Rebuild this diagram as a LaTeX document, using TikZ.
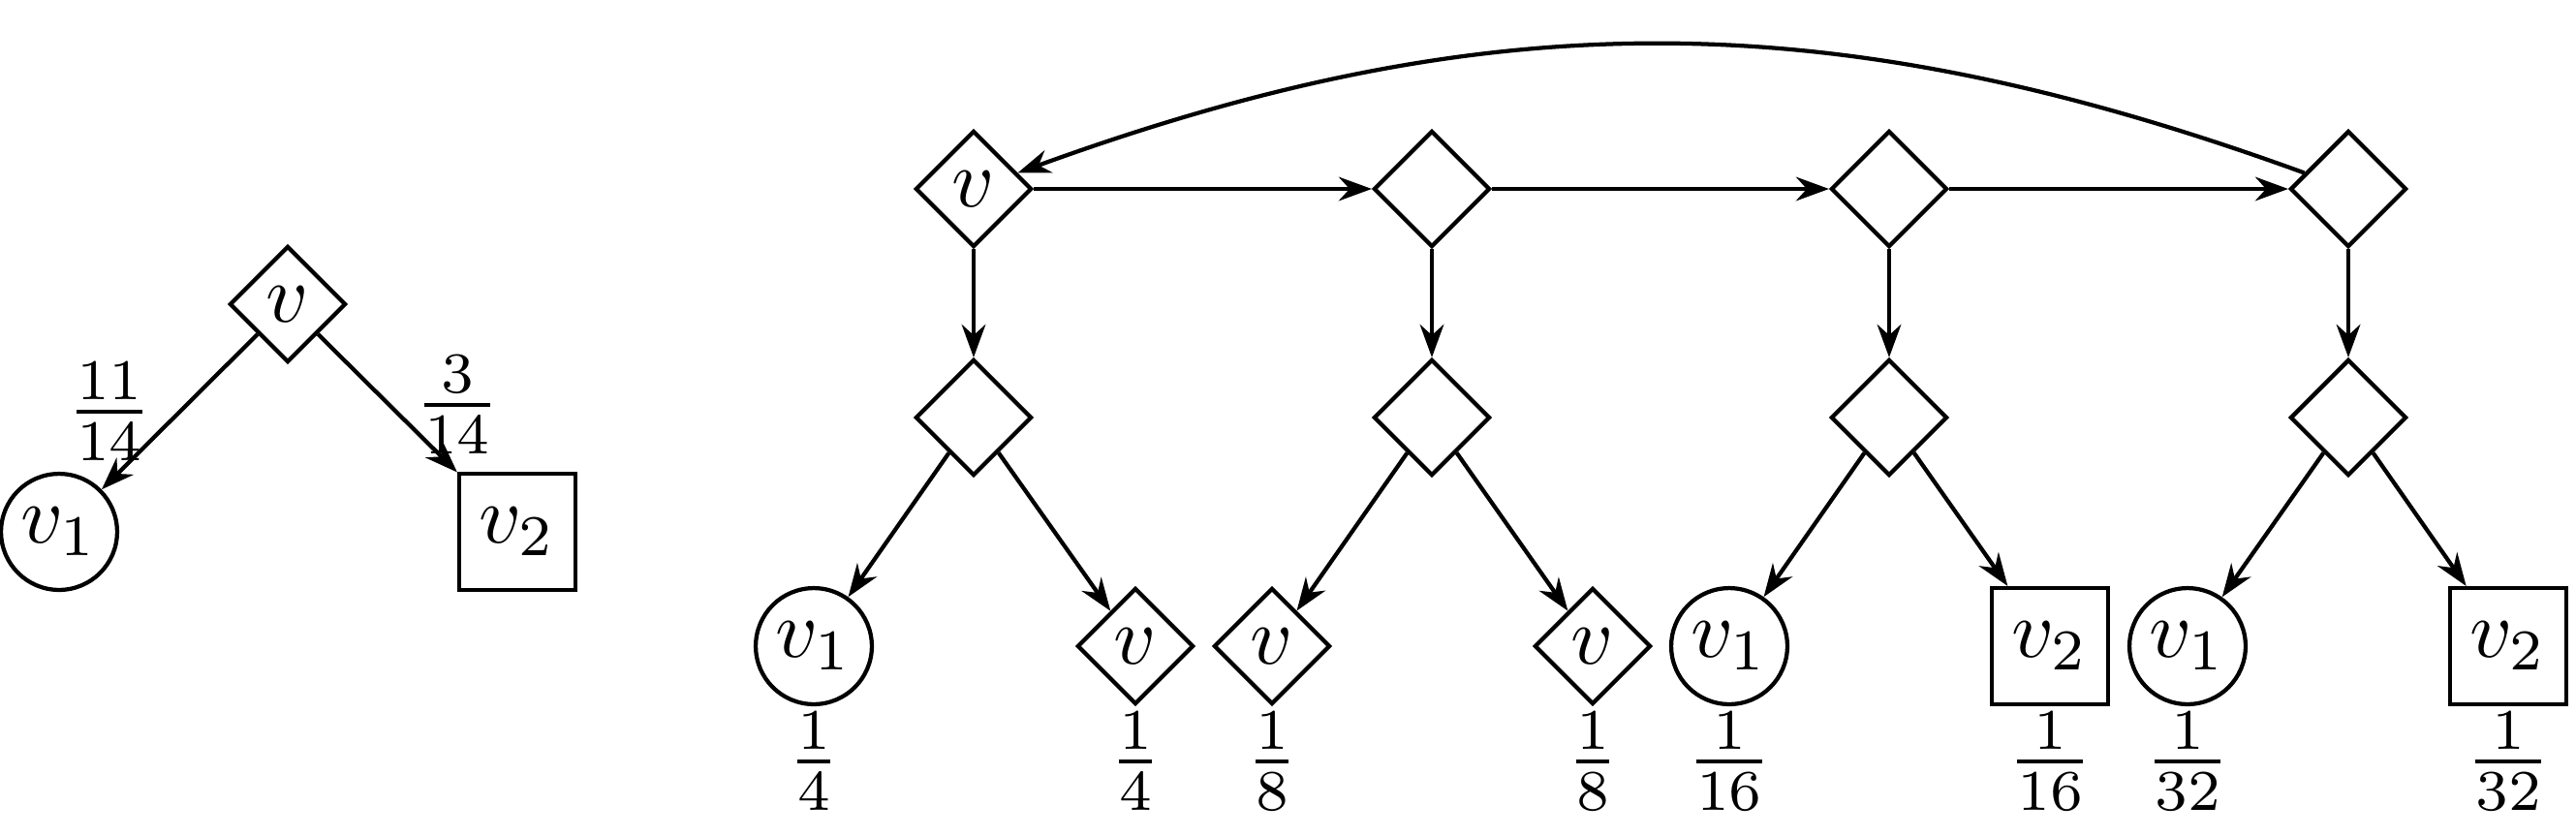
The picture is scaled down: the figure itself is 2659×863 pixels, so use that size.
\documentclass[tikz,border=0pt]{standalone}
\usetikzlibrary{shapes.geometric,arrows.meta}
\begin{document}
\begin{tikzpicture}[x=0.11765pt,y=-0.11765pt, line width=0.5pt,
  dnode/.style={diamond,draw,minimum width=14.1pt,minimum height=14.1pt,inner sep=0pt},
  cnode/.style={circle,draw,minimum size=14.1pt,inner sep=0pt},
  snode/.style={rectangle,draw,minimum size=14.1pt,inner sep=0pt},
  arr/.style={-{Stealth[length=4pt,width=2.9pt]}},
  lab/.style={inner sep=0pt}]
\useasboundingbox (0,0) rectangle (2659,863);
% left figure
\node[dnode] (L) at (297,314) {$v$};
\node[cnode] (L1) at (61,549) {$v_1$};
\node[snode] (L2) at (534,549) {$v_2$};
\draw[arr] (L) -- (L1);
\draw[arr] (L) -- (L2);
\node[lab] (Lp1) at (113,425) {$\frac{11}{14}$};
\node[lab] (Lp2) at (472,418) {$\frac{3}{14}$};
% right figure: top row
\node[dnode] (T1) at (1005,195) {$v$};
\node[dnode] (T2) at (1478,195) {};
\node[dnode] (T3) at (1950,195) {};
\node[dnode] (T4) at (2424,195) {};
% middle row
\node[dnode] (M1) at (1005,431) {};
\node[dnode] (M2) at (1478,431) {};
\node[dnode] (M3) at (1950,431) {};
\node[dnode] (M4) at (2424,431) {};
% bottom row
\node[cnode] (B1a) at (840,667) {$v_1$};
\node[dnode] (B1b) at (1172,667) {$v$};
\node[dnode] (B2a) at (1313,667) {$v$};
\node[dnode] (B2b) at (1644,667) {$v$};
\node[cnode] (B3a) at (1785,667) {$v_1$};
\node[snode] (B3b) at (2116,667) {$v_2$};
\node[cnode] (B4a) at (2258,667) {$v_1$};
\node[snode] (B4b) at (2589,667) {$v_2$};
% probabilities
\node[lab] (P1a) at (840,786) {$\frac{1}{4}$};
\node[lab] (P1b) at (1172,786) {$\frac{1}{4}$};
\node[lab] (P2a) at (1313,786) {$\frac{1}{8}$};
\node[lab] (P2b) at (1644,786) {$\frac{1}{8}$};
\node[lab] (P3a) at (1785,786) {$\frac{1}{16}$};
\node[lab] (P3b) at (2116,786) {$\frac{1}{16}$};
\node[lab] (P4a) at (2258,786) {$\frac{1}{32}$};
\node[lab] (P4b) at (2589,786) {$\frac{1}{32}$};
% edges
\draw[arr] (T1) -- (T2);
\draw[arr] (T2) -- (T3);
\draw[arr] (T3) -- (T4);
\draw[arr] (T4) to[bend right=20] (T1);
\draw[arr] (T1) -- (M1);
\draw[arr] (T2) -- (M2);
\draw[arr] (T3) -- (M3);
\draw[arr] (T4) -- (M4);
\draw[arr] (M1) -- (B1a);
\draw[arr] (M1) -- (B1b);
\draw[arr] (M2) -- (B2a);
\draw[arr] (M2) -- (B2b);
\draw[arr] (M3) -- (B3a);
\draw[arr] (M3) -- (B3b);
\draw[arr] (M4) -- (B4a);
\draw[arr] (M4) -- (B4b);
\end{tikzpicture}
\end{document}
